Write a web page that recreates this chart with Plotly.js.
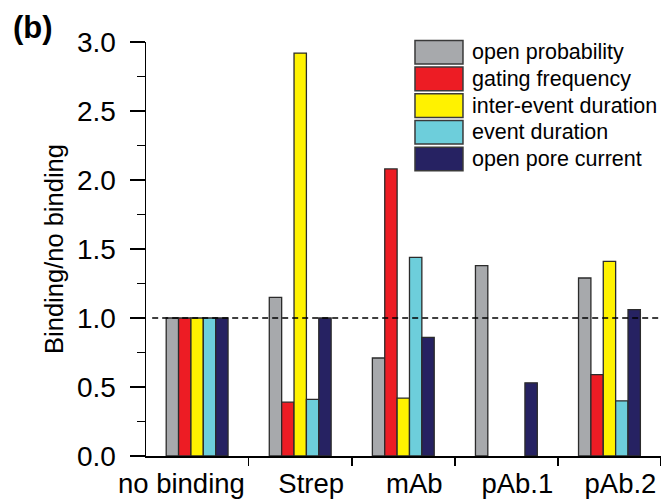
<!DOCTYPE html>
<html>
<head>
<meta charset="utf-8">
<script src="https://cdn.plot.ly/plotly-3.0.1.min.js"></script>
<style>html,body{margin:0;padding:0;background:#fff;}#chart{width:661px;height:500px;}</style>
</head>
<body>
<div id="chart"></div>
<script>
var categories = ["no binding", "Strep", "mAb", "pAb.1", "pAb.2"];
var xTickText = ["no binding\u00a0\u00a0\u00a0\u00a0\u00a0\u00a0\u00a0", "Strep", "mAb", "pAb.1", "pAb.2"];
var seriesNames = ["open probability", "gating frequency", "inter-event duration", "event duration", "open pore current"];
var seriesColors = ["#a7a9ac", "#ed1c24", "#fff200", "#6dcedb", "#262262"];
var openProbability    = [1.0, 1.15, 0.71, 1.38, 1.29];
var gatingFrequency    = [1.0, 0.39, 2.08, null, 0.59];
var interEventDuration = [1.0, 2.92, 0.42, null, 1.41];
var eventDuration      = [1.0, 0.41, 1.44, null, 0.40];
var openPoreCurrent    = [1.0, 1.0, 0.86, 0.53, 1.06];
var yTickVals = [0, 0.5, 1.0, 1.5, 2.0, 2.5, 3.0];
var yTickText = ["0.0", "0.5", "1.0", "1.5", "2.0", "2.5", "3.0"];
var referenceLevel = 1.0;

var seriesValues = [openProbability, gatingFrequency, interEventDuration, eventDuration, openPoreCurrent];
var FONT = "Arial, 'Liberation Sans', sans-serif";

var traces = seriesValues.map(function (vals, i) {
  return {
    type: "bar",
    name: seriesNames[i],
    x: categories,
    y: vals,
    marker: { color: seriesColors[i], line: { color: "#2b2b2b", width: 1.3 } },
    showlegend: false,
    hoverinfo: "x+y+name"
  };
});

var shapes = [{
  type: "line", xref: "paper", yref: "y",
  x0: 0.012, x1: 1, y0: referenceLevel, y1: referenceLevel,
  line: { color: "#000", width: 1.5, dash: "6px,4px" }
}];
var annotations = [];

// custom legend (large colour boxes), built from series names/colours
var lgLeft = 0.5223, lgRight = 0.6155, lgTop = 1.0039, rowH = 0.0645, boxH = 0.057;
seriesNames.forEach(function (name, i) {
  var top = lgTop - i * rowH;
  shapes.push({
    type: "rect", xref: "paper", yref: "paper",
    x0: lgLeft, x1: lgRight, y0: top - boxH, y1: top,
    fillcolor: seriesColors[i],
    line: { color: "#3a3a3a", width: 1.5 }
  });
  annotations.push({
    xref: "paper", yref: "paper", x: 0.629, y: top - boxH / 2,
    xanchor: "left", yanchor: "middle", showarrow: false,
    text: name, font: { family: FONT, size: 21.5, color: "#000" }
  });
});

annotations.push({
  xref: "paper", yref: "paper", x: -0.262, y: 1.036,
  xanchor: "left", yanchor: "middle", showarrow: false,
  text: "<b>(b)</b>", font: { family: FONT, size: 31, color: "#000" }
});

var layout = {
  width: 661, height: 500,
  margin: { l: 146, r: 0, t: 42, b: 44, pad: 0 },
  paper_bgcolor: "#fff", plot_bgcolor: "#fff",
  barmode: "group", bargap: 0.4, bargroupgap: 0,
  showlegend: false,
  font: { family: FONT, color: "#000" },
  xaxis: {
    type: "category",
    range: [-0.496, 4.5],
    categoryarray: categories, categoryorder: "array",
    tickmode: "array", tickvals: categories, ticktext: xTickText,
    showline: true, linecolor: "#000", linewidth: 1.5,
    ticks: "outside", tickson: "boundaries", ticklen: 8, tickwidth: 1.5, tickcolor: "#000",
    tickangle: 0, automargin: false, ticklabelshift: 11, ticklabelstandoff: 2,
    tickfont: { family: FONT, size: 27.5, color: "#000" },
    showgrid: false, zeroline: false, fixedrange: true
  },
  yaxis: {
    range: [0, 3.0],
    tickvals: yTickVals, ticktext: yTickText,
    showline: true, linecolor: "#000", linewidth: 1.5,
    ticks: "outside", ticklen: 15, tickwidth: 1.5, tickcolor: "#000",
    ticklabelstandoff: 8,
    minor: { dtick: 0.25, ticks: "outside", ticklen: 8, tickwidth: 1.5, tickcolor: "#000", showgrid: false },
    tickfont: { family: FONT, size: 28, color: "#000" },
    title: { text: "Binding/no binding", font: { family: FONT, size: 25.5, color: "#000" }, standoff: 6 },
    showgrid: false, zeroline: false, fixedrange: true, automargin: false
  },
  shapes: shapes,
  annotations: annotations
};

Plotly.newPlot("chart", traces, layout, { displayModeBar: false, staticPlot: true });
</script>
</body>
</html>
